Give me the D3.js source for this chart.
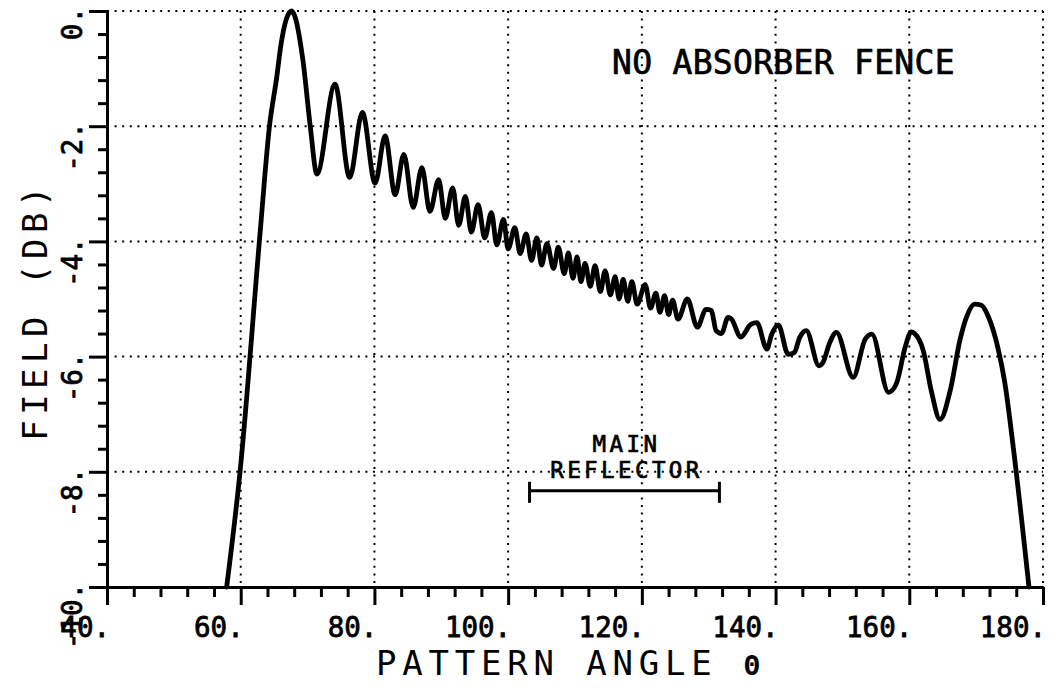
<!DOCTYPE html>
<html><head><meta charset="utf-8">
<script src="https://cdn.jsdelivr.net/npm/d3@7"></script>
<style>html,body{margin:0;padding:0;background:#fff;} svg{display:block;background:#fff;}</style>
</head><body><svg id="c" width="1050" height="688"></svg>
<script>
// ---- data ----
const xTicks = [40, 60, 80, 100, 120, 140, 160, 180];
const xTickLabels = ["40.", "60.", "80.", "100.", "120.", "140.", "160.", "180."];
const yTicks = [0, -2, -4, -6, -8, -10];
const yTickLabels = ["0.", "-2.", "-4.", "-6.", "-8.", "-10."];
const xMinorStep = 4;
const yMinorStep = 0.4;

const angle = [
  57.9, 59.9, 62.9, 64.3, 65.4, 66.0, 67.6, 69.3, 70.4, 71.4,
  74.1, 76.3, 78.2, 80.1, 81.6, 83.1, 84.4, 85.8, 87.1, 88.3,
  89.6, 90.6, 91.7, 92.6, 93.6, 94.5, 95.5, 96.5, 97.5, 98.3,
  99.3, 100.0, 101.0, 101.8, 102.7, 103.5, 104.3, 105.0, 105.8, 106.8,
  107.5, 108.4, 109.0, 109.7, 110.3, 110.9, 111.5, 112.3, 113.0, 113.8,
  114.5, 115.3, 116.0, 116.6, 117.2, 117.9, 118.5, 119.3, 120.5, 121.3,
  122.1, 122.7, 123.4, 124.0, 124.6, 125.4, 126.8, 128.3, 129.6, 130.4,
  131.1, 131.9, 132.9, 133.4, 134.8, 136.3, 137.2, 138.7, 139.4, 140.4,
  141.9, 142.8, 143.6, 144.6, 146.5, 147.1, 148.1, 149.1, 151.6, 153.4,
  154.4, 156.9, 158.1, 159.4, 160.3, 160.8, 162.1, 163.3, 164.6, 166.1,
  167.6, 168.6, 169.8, 170.8, 171.8, 173.3, 174.3, 175.6, 177.9
];
const fieldDb = [
  -10, -8, -3.85, -2.0, -1.14, -0.6, 0, -0.85, -2.0, -2.83,
  -1.27, -2.89, -1.76, -2.99, -2.17, -3.19, -2.49, -3.41, -2.72, -3.48,
  -2.93, -3.60, -3.07, -3.72, -3.22, -3.84, -3.36, -3.94, -3.50, -4.06,
  -3.62, -4.13, -3.76, -4.21, -3.87, -4.33, -3.94, -4.41, -4.04, -4.47,
  -4.10, -4.56, -4.20, -4.64, -4.27, -4.70, -4.38, -4.78, -4.42, -4.87,
  -4.51, -4.93, -4.61, -5.00, -4.66, -5.04, -4.70, -5.09, -4.75, -5.16,
  -4.90, -5.23, -4.94, -5.27, -5.02, -5.35, -5.00, -5.49, -5.18, -5.20,
  -5.55, -5.60, -5.32, -5.35, -5.66, -5.44, -5.41, -5.87, -5.62, -5.45,
  -5.96, -5.93, -5.67, -5.55, -6.16, -6.10, -5.76, -5.58, -6.36, -5.70,
  -5.61, -6.62, -6.46, -5.83, -5.57, -5.60, -5.90, -6.60, -7.09, -6.60,
  -5.70, -5.30, -5.09, -5.11, -5.30, -5.87, -6.46, -7.62, -10
];

const reflectorSpan = [103.2, 131.6];
const reflectorLevel = -8.33;
const reflectorLabel = ["MAIN", "REFLECTOR"];
const titleText = "NO ABSORBER FENCE";
const xTitle = "PATTERN ANGLE ";
const thetaSymbol = "Θ";
const yTitle = "FIELD (DB)";

// ---- drawing ----
const svg = d3.select("#c");
const FONT = "'DejaVu Sans Mono', 'Liberation Mono', monospace";
const x = d3.scaleLinear().domain([40, 180]).range([107, 1043]);
const y = d3.scaleLinear().domain([-10, 0]).range([587, 11]);

svg.append("rect").attr("width", 1050).attr("height", 688).attr("fill", "#fff");

// dotted grid
const grid = svg.append("g").attr("stroke", "#000").attr("stroke-width", 2)
  .attr("stroke-dasharray", "2,5.6").attr("fill", "none");
grid.selectAll("line.v").data(xTicks.filter(d => d !== 40)).join("line")
  .attr("x1", d => x(d)).attr("x2", d => x(d)).attr("y1", y(0)).attr("y2", y(-10));
grid.selectAll("line.h").data(yTicks.filter(d => d !== -10)).join("line")
  .attr("class", "h")
  .attr("x1", x(40)).attr("x2", x(180)).attr("y1", d => y(d)).attr("y2", d => y(d));

// axes
function styleAxis(g) {
  g.select(".domain").attr("stroke", "#000").attr("stroke-width", 3);
  g.selectAll(".tick line").attr("stroke", "#000").attr("stroke-width", 3);
  g.selectAll(".tick text").remove();
}
const yMinor = d3.range(-10, 0.001, yMinorStep).filter(v => !yTicks.some(t => Math.abs(t - v) < 1e-6));
const xMinor = d3.range(40, 180.001, xMinorStep).filter(v => !xTicks.some(t => Math.abs(t - v) < 1e-6));

svg.append("g").attr("transform", `translate(${x(40)},0)`)
  .call(d3.axisLeft(y).tickValues(yMinor).tickSize(9).tickSizeOuter(0).tickFormat(""))
  .call(styleAxis);
svg.append("g").attr("transform", `translate(${x(40)},0)`)
  .call(d3.axisLeft(y).tickValues(yTicks).tickSize(18).tickSizeOuter(0).tickFormat(""))
  .call(styleAxis);
svg.append("g").attr("transform", `translate(0,${y(-10)})`)
  .call(d3.axisBottom(x).tickValues(xMinor).tickSize(10).tickSizeOuter(0).tickFormat(""))
  .call(styleAxis);
svg.append("g").attr("transform", `translate(0,${y(-10)})`)
  .call(d3.axisBottom(x).tickValues(xTicks).tickSize(18).tickSizeOuter(0).tickFormat(""))
  .call(styleAxis);

// text helper: medium weight via thin outline
function medium(sel, w) {
  return sel.attr("fill", "#000").attr("stroke", "#000").attr("stroke-width", w);
}

// tick labels
svg.append("g").selectAll("text").data(xTicks).join("text")
  .attr("x", d => x(d) + 3).attr("y", 637)
  .attr("text-anchor", "end").attr("font-family", FONT).attr("font-size", 27.5)
  .call(medium, 0.8)
  .text((d, i) => xTickLabels[i]);
svg.append("g").selectAll("text").data(yTicks).join("text")
  .attr("transform", d => `translate(82,${y(d) - 4}) rotate(-90)`)
  .attr("text-anchor", "end").attr("font-family", FONT).attr("font-size", 27.5)
  .call(medium, 0.8)
  .text((d, i) => yTickLabels[i]);

// titles
const xt = svg.append("text").attr("x", 376).attr("y", 675)
  .attr("font-family", FONT).attr("font-size", 34).attr("letter-spacing", 5.8)
  .attr("fill", "#000");
xt.append("tspan").text(xTitle);
xt.append("tspan").attr("font-size", 27).attr("font-weight", "bold").text(thetaSymbol);

svg.append("text").attr("transform", "translate(47,311) rotate(-90)")
  .attr("text-anchor", "middle")
  .attr("font-family", FONT).attr("font-size", 34).attr("letter-spacing", 5.5)
  .attr("fill", "#000").text(yTitle);

svg.append("text").attr("x", 612).attr("y", 74)
  .attr("font-family", FONT).attr("font-size", 33).attr("letter-spacing", 0.3)
  .call(medium, 0.7).text(titleText);

// reflector annotation
const midR = x((reflectorSpan[0] + reflectorSpan[1]) / 2) + 2;
svg.append("text").attr("x", midR).attr("y", 452).attr("text-anchor", "middle")
  .attr("font-family", FONT).attr("font-size", 22.5).attr("letter-spacing", 3.4)
  .call(medium, 0.7).text(reflectorLabel[0]);
svg.append("text").attr("x", midR).attr("y", 478).attr("text-anchor", "middle")
  .attr("font-family", FONT).attr("font-size", 22.5).attr("letter-spacing", 3.4)
  .call(medium, 0.7).text(reflectorLabel[1]);
const br = svg.append("g").attr("stroke", "#000").attr("stroke-width", 3).attr("fill", "none");
br.append("line").attr("x1", x(reflectorSpan[0])).attr("x2", x(reflectorSpan[1]))
  .attr("y1", y(reflectorLevel)).attr("y2", y(reflectorLevel));
reflectorSpan.forEach(v => {
  br.append("line").attr("x1", x(v)).attr("x2", x(v))
    .attr("y1", y(reflectorLevel) - 9).attr("y2", y(reflectorLevel) + 12);
});

// curve
const pts = angle.map((a, i) => [a, fieldDb[i]]);
svg.append("path").datum(pts)
  .attr("fill", "none").attr("stroke", "#000").attr("stroke-width", 4.8)
  .attr("stroke-linejoin", "round").attr("stroke-linecap", "round")
  .attr("d", d3.line().x(d => x(d[0])).y(d => y(d[1])).curve(d3.curveMonotoneX));
</script></body></html>
